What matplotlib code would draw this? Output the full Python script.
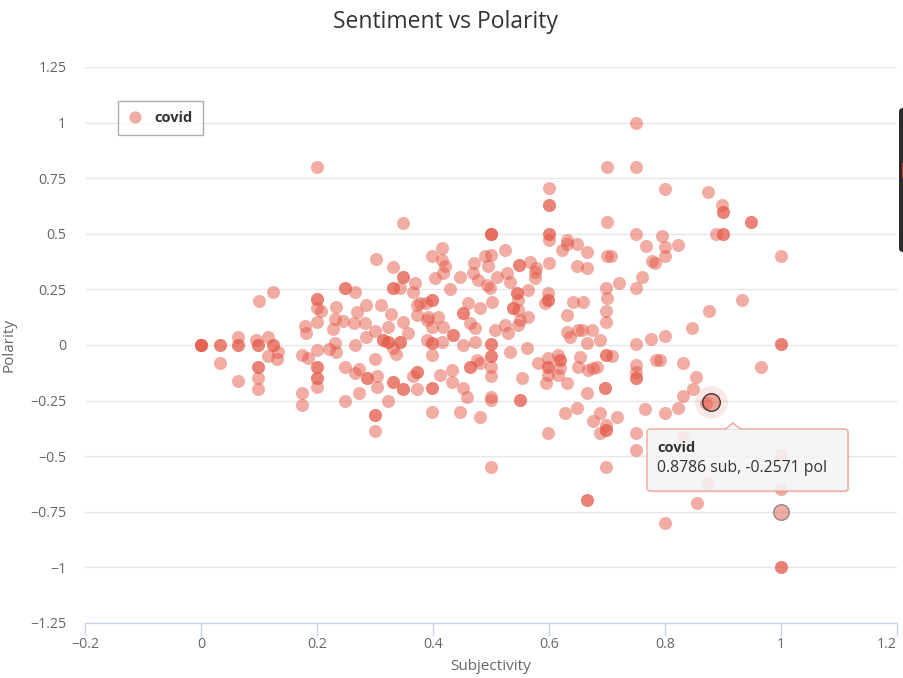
import matplotlib
matplotlib.use("Agg")
import matplotlib.pyplot as plt
from matplotlib.lines import Line2D
from matplotlib.patches import FancyBboxPatch, Polygon, Rectangle
from matplotlib.ticker import FuncFormatter

plt.rcParams['font.family'] = ['Open Sans', 'DejaVu Sans']

# --- data (subjectivity, polarity), repeated values = overlapping tweets
series_name = "covid"
subjectivity = [
    # 0 - 0.2
    0, 0, 0, 0, 0.033, 0.033, 0.033, 0.064, 0.064, 0.064, 0.064, 0.095, 0.098, 0.098,
    0.116, 0.124, 0.124, 0.133, 0.116, 0.131, 0.098, 0.098, 0.098, 0.098, 0.1, 0.125,
    0.174, 0.184, 0.174, 0.174, 0.179, 0.181,
    # 0.2 - 0.3
    0.2, 0.2, 0.2, 0.2, 0.2, 0.2, 0.2, 0.2, 0.2, 0.2, 0.207, 0.2, 0.22, 0.231, 0.233,
    0.231, 0.228, 0.245, 0.264, 0.269, 0.283, 0.233, 0.284, 0.266, 0.248, 0.248, 0.266,
    0.248, 0.272, 0.266, 0.286, 0.286, 0.248, 0.272, 0.284,
    # 0.3 - 0.4
    0.31, 0.328, 0.303, 0.3, 0.303, 0.322, 0.3, 0.314, 0.314, 0.322, 0.322, 0.343, 0.343,
    0.331, 0.336, 0.331, 0.331, 0.348, 0.348, 0.322, 0.372, 0.372, 0.372, 0.366, 0.3, 0.3,
    0.3, 0.302, 0.331, 0.348, 0.348, 0.369, 0.331, 0.331, 0.343, 0.366, 0.348, 0.357,
    0.348, 0.372, 0.372, 0.39, 0.388, 0.378,
    # 0.4 - 0.5
    0.403, 0.417, 0.447, 0.429, 0.398, 0.398, 0.391, 0.409, 0.417, 0.398, 0.39, 0.398,
    0.398, 0.416, 0.398, 0.412, 0.433, 0.433, 0.452, 0.459, 0.398, 0.398, 0.398, 0.447,
    0.481, 0.452, 0.452, 0.46, 0.481, 0.469, 0.478, 0.493, 0.498, 0.502, 0.434, 0.434,
    0.452, 0.464, 0.472, 0.472, 0.476, 0.464, 0.464, 0.481, 0.416, 0.398, 0.416, 0.42,
    0.49, 0.5, 0.495, 0.47,
    # 0.5 - 0.6
    0.51, 0.528, 0.533, 0.576, 0.576, 0.545, 0.545, 0.547, 0.564, 0.538, 0.538, 0.547,
    0.564, 0.598, 0.598, 0.598, 0.593, 0.507, 0.524, 0.529, 0.547, 0.55, 0.5, 0.5, 0.5,
    0.5, 0.5, 0.5, 0.533, 0.562, 0.553, 0.5, 0.5, 0.55, 0.55, 0.581, 0.598, 0.598, 0.598,
    0.598, 0.595, 0.598, 0.5, 0.5, 0.5, 0.5, 0.524, 0.548, 0.548, 0.567, 0.578, 0.6, 0.6,
    0.6, 0.6, 0.6, 0.6, 0.6,
    # 0.6 - 0.8
    0.616, 0.619, 0.619, 0.619, 0.616, 0.631, 0.653, 0.65, 0.667, 0.676, 0.683, 0.666,
    0.697, 0.697, 0.648, 0.628, 0.688, 0.717, 0.641, 0.659, 0.631, 0.631, 0.636, 0.65,
    0.657, 0.674, 0.666, 0.688, 0.698, 0.698, 0.709, 0.698, 0.7, 0.698, 0.698, 0.721,
    0.75, 0.76, 0.75, 0.776, 0.8, 0.784, 0.75, 0.75, 0.75, 0.75, 0.766, 0.8, 0.676, 0.698,
    0.698, 0.698, 0.688, 0.75, 0.75, 0.698, 0.666, 0.666, 0.8, 0.7, 0.75, 0.75, 0.7, 0.75,
    0.767, 0.778, 0.783, 0.631, 0.631, 0.622, 0.648, 0.666, 0.7, 0.707, 0.648, 0.666,
    # 0.8 - 1
    0.8, 0.875, 0.898, 0.9, 0.9, 0.948, 0.948, 0.888, 0.9, 0.9, 0.795, 0.8, 0.822, 0.8, 1.0,
    0.933, 0.876, 0.847, 1.0, 1.0, 0.966, 0.831, 0.791, 0.853, 0.848, 0.831, 0.822, 0.87,
    0.831, 0.874, 0.855, 1.0, 1.0, 1.0, 1.0,
]
polarity = [
    # 0 - 0.2
    0, 0, 0, 0, 0, 0, -0.08, 0.036, 0, 0, -0.16, 0.022, 0, 0,
    0.036, 0, 0, -0.03, -0.05, -0.063, -0.1, -0.1, -0.15, -0.2, 0.2, 0.238,
    -0.045, -0.058, -0.216, -0.27, 0.085, 0.054,
    # 0.2 - 0.3
    0.103, -0.022, -0.1, -0.1, -0.15, -0.15, -0.19, 0.205, 0.205, 0.165, 0.153, 0.8, -0.02,
    0.009, -0.03, 0.117, 0.072, 0.108, 0.099, 0.148, 0.099, 0.17, 0.18, 0.0, 0.257, 0.257,
    0.24, -0.1, -0.11, -0.127, -0.15, -0.15, -0.25, -0.216, 0.036,
    # 0.3 - 0.4
    0.18, 0.14, -0.14, -0.063, -0.19, 0.081, 0.063, 0.022, 0.022, 0.013, 0.013, 0.013, 0.013,
    -0.013, -0.04, -0.166, -0.166, -0.2, -0.2, -0.25, -0.2, -0.12, -0.12, -0.14, -0.315,
    -0.315, -0.387, 0.387, 0.35, 0.305, 0.305, 0.28, 0.257, 0.257, 0.257, 0.24, 0.55, 0.054,
    0.103, 0.18, 0.135, 0.112, 0.189, 0.189,
    # 0.4 - 0.5
    0.301, 0.324, 0.306, 0.252, 0.202, 0.202, 0.126, 0.126, 0.081, 0.081, 0.022, 0.009,
    0.009, 0.013, -0.045, -0.135, -0.112, -0.166, -0.193, -0.234, -0.193, -0.193, -0.301,
    -0.301, -0.324, 0.144, 0.144, 0.189, 0.166, 0.324, 0.292, 0.27, 0.256, 0.193, 0.045,
    0.045, 0.0, 0.099, 0.076, 0.013, -0.067, -0.099, -0.099, -0.081, 0.437, 0.4, 0.38,
    0.355, 0.4, 0.405, 0.355, 0.37,
    # 0.5 - 0.6
    0.306, 0.324, 0.283, 0.328, 0.301, 0.234, 0.234, 0.202, 0.247, 0.166, 0.166, 0.157,
    0.126, 0.234, 0.202, 0.202, 0.189, 0.067, 0.09, 0.054, 0.09, 0.112, 0.004, 0.004,
    -0.049, -0.049, -0.099, -0.139, -0.031, -0.013, -0.148, -0.234, -0.247, -0.247, -0.247,
    -0.081, -0.058, -0.099, -0.099, -0.135, -0.171, -0.396, -0.549, 0.5, 0.5, 0.5, 0.427,
    0.36, 0.36, 0.373, 0.345, 0.37, 0.705, 0.63, 0.63, 0.5, 0.5, 0.47,
    # 0.6 - 0.8
    -0.045, -0.067, -0.067, -0.103, -0.135, -0.171, -0.054, -0.099, -0.112, -0.103, -0.099,
    -0.216, -0.193, -0.193, -0.283, -0.306, -0.306, -0.324, 0.193, 0.193, 0.135, 0.058,
    0.036, 0.067, 0.067, 0.067, 0.009, 0.022, -0.045, -0.045, -0.049, 0.256, 0.211, 0.153,
    0.103, 0.279, 0.256, 0.306, 0.004, 0.027, 0.04, -0.067, -0.09, -0.121, -0.148, -0.148,
    -0.288, -0.306, -0.342, -0.36, -0.382, -0.382, -0.396, -0.396, -0.472, -0.549, -0.697,
    -0.697, -0.8, 0.8, 0.8, 1.0, 0.553, 0.5, 0.445, 0.378, 0.37, 0.47, 0.455, 0.427, 0.455,
    0.42, 0.4, 0.4, 0.355, 0.345,
    # 0.8 - 1
    0.7, 0.69, 0.63, 0.6, 0.6, 0.553, 0.553, 0.5, 0.5, 0.5, 0.49, 0.44, 0.45, 0.4, 0.4,
    0.202, 0.153, 0.076, 0.004, 0.004, -0.099, -0.081, -0.067, -0.144, -0.198, -0.229,
    -0.283, -0.26, -0.414, -0.62, -0.71, -0.494, -0.647, -1.0, -1.0,
]
hover_point = (0.8786, -0.2571)      # point under the mouse, shown in the tooltip
inactive_point = (1.0, -0.75)        # point drawn with a grey outline
x_ticks = [-0.2, 0, 0.2, 0.4, 0.6, 0.8, 1, 1.2]
y_ticks = [-1.25, -1, -0.75, -0.5, -0.25, 0, 0.25, 0.5, 0.75, 1, 1.25]

W, H = 904, 678
color = (0.894, 0.353, 0.282, 0.5)
fig = plt.figure(figsize=(W / 100, H / 100), dpi=100)
ax = fig.add_axes([85 / W, 1 - 623 / H, 812 / W, 556 / H])

ax.scatter(subjectivity, polarity, s=88, color=color, linewidths=0, zorder=3)
ax.scatter([inactive_point[0]], [inactive_point[1]], s=125, color=color,
           edgecolors='#8a8a8a', linewidths=1, zorder=4)
# hover halo + highlighted marker
ax.scatter([hover_point[0]], [hover_point[1]], s=560, color=(0.894, 0.353, 0.282, 0.13),
           linewidths=0, zorder=4)
ax.scatter([hover_point[0]], [hover_point[1]], s=160, color=color,
           edgecolors='#3a3a3a', linewidths=1, zorder=5)

ax.set_xlim(-0.2, 1.2)
ax.set_ylim(-1.25, 1.25)
ax.set_xticks(x_ticks)
ax.set_yticks(y_ticks)
fmt = FuncFormatter(lambda v, pos: f"{v:g}".replace('-', '\u2212'))
ax.xaxis.set_major_formatter(fmt)
ax.yaxis.set_major_formatter(fmt)
ax.yaxis.grid(True, color='#e6e6e6', lw=1)
ax.set_axisbelow(True)
for s in ['top', 'right', 'left']:
    ax.spines[s].set_visible(False)
ax.spines['bottom'].set_color('#ccd6eb')
ax.spines['bottom'].set_linewidth(1)
ax.tick_params(axis='x', direction='out', length=9.4, width=1, color='#ccd6eb',
               labelsize=10.2, labelcolor='#666666', pad=1)
ax.tick_params(axis='y', length=0, labelsize=10.2, labelcolor='#666666', pad=13.5)
# last x label is pushed inside the chart, as Highcharts does
fig.canvas.draw()
ax.get_xticklabels()[-1].set_horizontalalignment('right')

fig.text(445 / W, 1 - 22 / H, 'Sentiment vs Polarity', ha='center', va='center',
         fontsize=16.5, color='#333333')
fig.text(491 / W, 1 - 667 / H, 'Subjectivity', ha='center', va='center',
         fontsize=11, color='#666666')
fig.text(9 / W, 1 - 345 / H, 'Polarity', ha='center', va='center', rotation=90,
         fontsize=11, color='#666666')

handle = Line2D([], [], marker='o', linestyle='none', markersize=8.8,
                markerfacecolor=color, markeredgewidth=0)
leg = ax.legend([handle], [series_name], loc='upper left',
                bbox_to_anchor=((118 - 85) / 812, (623 - 101) / 556),
                borderaxespad=0, fancybox=False, frameon=True, handlelength=0.9,
                handletextpad=0.9, borderpad=0.7,
                prop={'weight': 'bold', 'size': 10.5})
leg.get_frame().set_edgecolor('#999999')
leg.get_frame().set_linewidth(1)
for t in leg.get_texts():
    t.set_color('#333333')

# tooltip (figure inches)
inch = fig.dpi_scale_trans
bx, by, bw, bh = 6.47, (H - 491) / 100, 2.01, 0.62
fig.patches.append(FancyBboxPatch((bx + 0.015, by - 0.015), bw, bh,
                                  boxstyle="round,pad=0,rounding_size=0.03",
                                  facecolor=(0, 0, 0, 0.08), edgecolor='none',
                                  transform=inch, figure=fig))
fig.patches.append(FancyBboxPatch((bx, by), bw, bh, boxstyle="round,pad=0,rounding_size=0.03",
                                  facecolor=(0.969, 0.969, 0.969, 0.85),
                                  edgecolor=(0.92, 0.65, 0.61), lw=1,
                                  transform=inch, figure=fig))
fig.patches.append(Polygon([(7.25, by + bh - 0.005), (7.33, by + bh + 0.06),
                            (7.41, by + bh - 0.005)], closed=False,
                           facecolor='#f7f7f7', edgecolor=(0.92, 0.65, 0.61), lw=1,
                           transform=inch, figure=fig))
fig.text(6.57, (H - 448) / 100, series_name, transform=inch, ha='left', va='center',
         fontsize=10.5, fontweight='bold', color='#333333')
fig.text(6.57, (H - 468) / 100, f"{hover_point[0]:.4f} sub, {hover_point[1]:.4f} pol",
         transform=inch, ha='left', va='center', fontsize=11.3, color='#333333')

# partial dark widget at the right edge of the screenshot
fig.patches.append(FancyBboxPatch((8.99, (H - 252) / 100), 0.2, 1.44,
                                  boxstyle="round,pad=0,rounding_size=0.04",
                                  facecolor='#2b2b2b', edgecolor='none',
                                  transform=inch, figure=fig))
fig.patches.append(Rectangle((9.02, (H - 178) / 100), 0.05, 0.15, facecolor='#c0392b',
                             edgecolor='none', transform=inch, figure=fig))

fig.savefig('out.png', dpi=100)
